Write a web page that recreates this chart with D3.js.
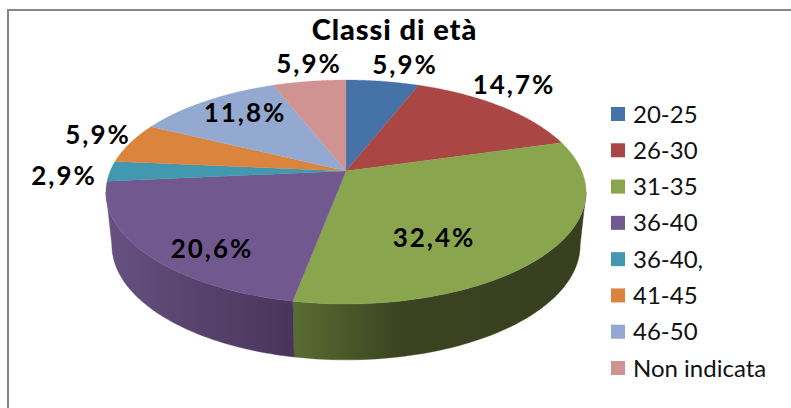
<!DOCTYPE html>
<html><head><meta charset="utf-8">
<script src="https://cdn.jsdelivr.net/npm/d3@7/dist/d3.min.js"></script>
<style>html,body{margin:0;background:#fff;overflow:hidden}svg{display:block}text{font-family:Lato,"Open Sans",sans-serif}</style>
</head><body><div id="c"></div>
<script>
const chartTitle = "Classi di età";
const categories = ["20-25","26-30","31-35","36-40","36-40,","41-45","46-50","Non indicata"];
const values = [5.9,14.7,32.4,20.6,2.9,5.9,11.8,5.9];
const valueLabels = ["5,9%","14,7%","32,4%","20,6%","2,9%","5,9%","11,8%","5,9%"];
const colours = ["#4573A7","#AA4644","#89A54E","#71588F","#4298AF","#DB843D","#93A9CF","#D19392"];
// layout
const labelCentres = [[405,65],[514,85],[434,238],[212,249],[64,176],[98,135],[245,113],[309,64]];
const wallShades = {2:[[293,"#596d31"],[400,"#3b4321"],[590,"#373f1f"]],3:[[105,"#665181"],[293,"#49345a"]]};
const W=791,H=408,cx=346,k=-0.1875;
const topFace={X:235.8,b:171,a:76}, bottomFace={X:230,b:223.4,a:69};
const svg=d3.select("#c").append("svg").attr("width",W).attr("height",H);
const color=d3.scaleOrdinal(categories,colours);
const project=(f,t,r=1)=>{const u=r*Math.sin(t),v=-r*Math.cos(t),d=1+k*v;return [cx+f.X*u/d,(f.b+f.a*v)/d];};
const arcs=d3.pie().sort(null).value(d=>d)(values);
const line=d3.line();
const samples=(a0,a1)=>d3.range(0,81).map(i=>a0+(a1-a0)*i/80);
const rightExt=Math.PI-Math.acos(-k), leftExt=Math.PI+Math.acos(-k);
const defs=svg.append("defs");
// frame
svg.append("path").attr("d",line([[8,H],[8,10],[W,10]])).attr("fill","none").attr("stroke","#868686").attr("stroke-width",2);
// side walls
arcs.forEach((s,i)=>{
  const a0=Math.max(s.startAngle,rightExt),a1=Math.min(s.endAngle,leftExt);
  if(a1<=a0) return;
  let fill=d3.color(colours[i]).darker(1.2);
  if(wallShades[i]){
    const g=defs.append("linearGradient").attr("id","w"+i).attr("gradientUnits","userSpaceOnUse")
      .attr("x1",wallShades[i][0][0]).attr("x2",wallShades[i][wallShades[i].length-1][0]).attr("y1",0).attr("y2",0);
    const sx=d3.scaleLinear().domain([wallShades[i][0][0],wallShades[i][wallShades[i].length-1][0]]).range([0,1]);
    wallShades[i].forEach(p=>g.append("stop").attr("offset",sx(p[0])).attr("stop-color",p[1]));
    fill=`url(#w${i})`;
  }
  const ts=samples(a0,a1);
  const pts=ts.map(t=>project(topFace,t)).concat(ts.slice().reverse().map(t=>project(bottomFace,t)));
  svg.append("path").attr("d",line(pts)+"Z").attr("fill",fill).attr("stroke",fill).attr("stroke-width",0.4);
});
// top face
arcs.forEach((s,i)=>{
  const pts=[project(topFace,0,0)].concat(samples(s.startAngle,s.endAngle).map(t=>project(topFace,t)));
  svg.append("path").attr("d",line(pts)+"Z").attr("fill",colours[i]).attr("stroke",colours[i]).attr("stroke-width",0.3);
});
// title + value labels
svg.append("text").attr("x",394.5).attr("y",40).attr("text-anchor","middle").attr("font-size",29).attr("letter-spacing",0.9).attr("font-weight",900).attr("fill","#000").text(chartTitle);
svg.selectAll("text.v").data(valueLabels).join("text").attr("class","v")
  .attr("x",(d,i)=>labelCentres[i][0]).attr("y",(d,i)=>labelCentres[i][1]+9)
  .attr("text-anchor","middle").attr("font-size",26).attr("letter-spacing",2).attr("font-weight",700).attr("fill","#000").text(d=>d);
// legend
const ly=d3.scalePoint().domain(categories).range([114,368]);
const lg=svg.selectAll("g.l").data(categories).join("g").attr("class","l").attr("transform",d=>`translate(611,${ly(d)})`);
lg.append("rect").attr("x",0).attr("y",-7).attr("width",14).attr("height",14).attr("fill",d=>color(d));
lg.append("text").attr("x",22).attr("y",8.5).attr("font-size",24).attr("fill","#111").text(d=>d);
</script></body></html>
